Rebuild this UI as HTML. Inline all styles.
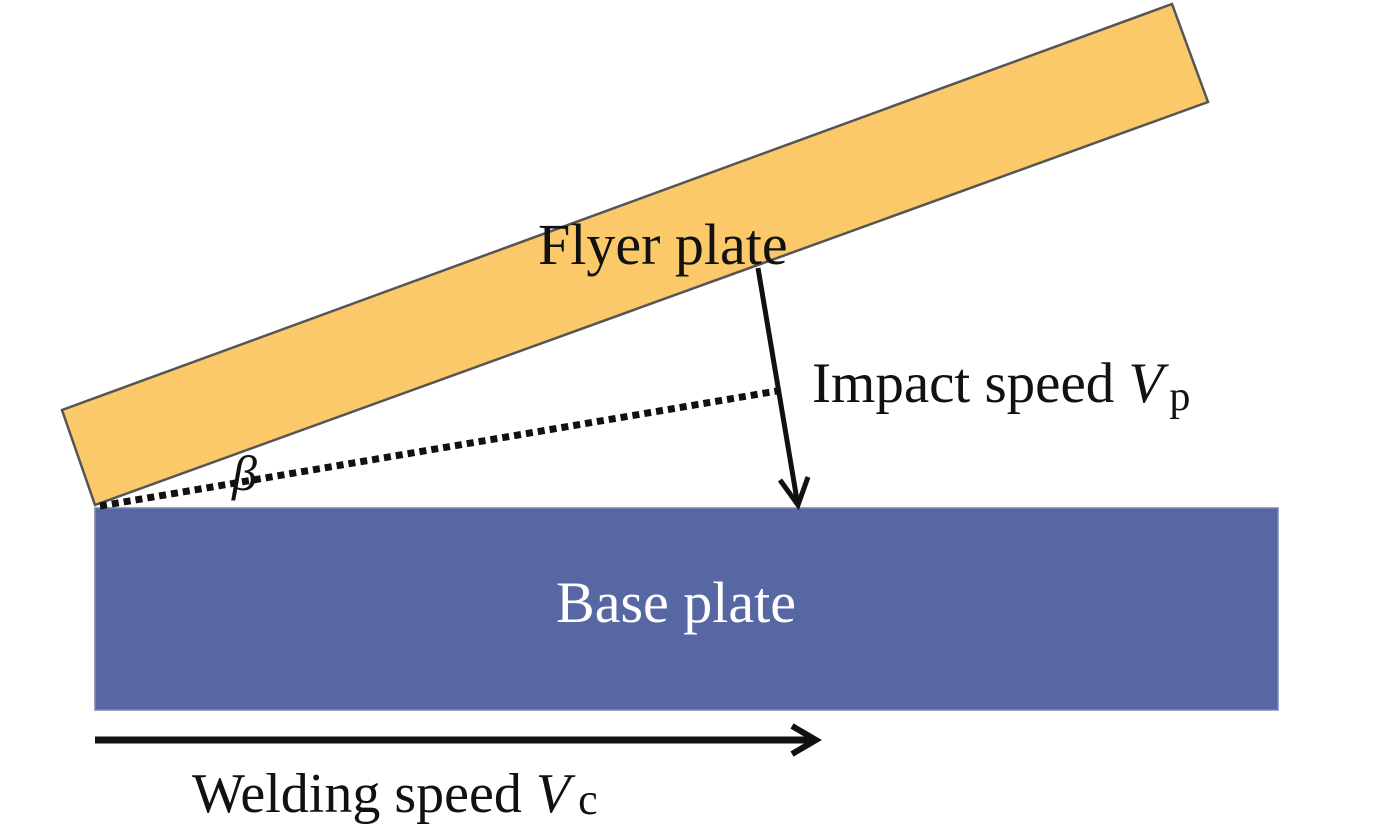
<!DOCTYPE html>
<html><head><style>
html,body{margin:0;padding:0;background:#fff;}
svg{display:block;}
text{font-family:"Liberation Serif",serif;}
</style></head><body>
<svg width="1386" height="824" viewBox="0 0 1386 824" xmlns="http://www.w3.org/2000/svg">
<polygon points="62,410 1172,4 1208,102 95,505" fill="#fcc96a" stroke="#555" stroke-width="2.5"/>
<rect x="95" y="508" width="1183" height="202" fill="#5767a3" stroke="#7a86b5" stroke-width="1.5"/>
<line x1="100" y1="506" x2="777" y2="391" stroke="#111" stroke-width="7" stroke-dasharray="7 5"/>
<line x1="758" y1="268" x2="797" y2="500" stroke="#111" stroke-width="5"/>
<polyline points="780,480 798,505 808,477" fill="none" stroke="#111" stroke-width="5"/>
<line x1="95" y1="740" x2="812" y2="740" stroke="#111" stroke-width="7"/>
<polyline points="792,726 816,740 792,754" fill="none" stroke="#111" stroke-width="6"/>
<text x="538" y="264" font-size="58" fill="#111">Flyer plate</text>
<text x="812" y="402" font-size="57" fill="#111">Impact speed <tspan font-style="italic">V</tspan><tspan font-size="42" dx="6" dy="8">p</tspan></text>
<text x="676" y="622" font-size="58" fill="#fff" text-anchor="middle">Base plate</text>
<text x="192" y="812" font-size="56" fill="#111">Welding speed <tspan font-style="italic">V</tspan><tspan font-size="44" dx="8" dy="2">c</tspan></text>
<text x="232" y="490" font-size="50" font-style="italic" fill="#111">β</text>
</svg>
</body></html>
